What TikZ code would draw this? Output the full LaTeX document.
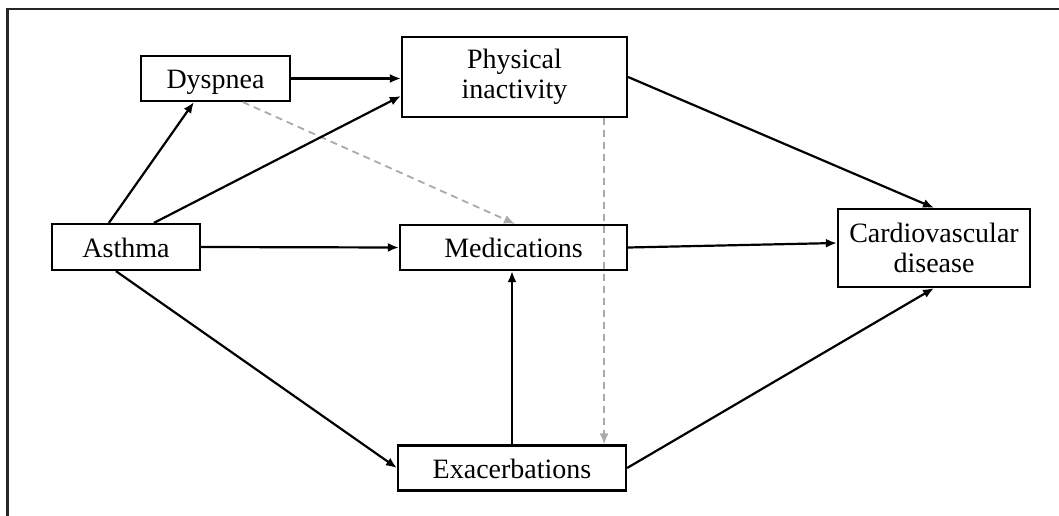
\documentclass[tikz,border=0pt]{standalone}
\usepackage{fontspec}
\setmainfont{Liberation Serif}
\usetikzlibrary{arrows.meta,calc}
\begin{document}
\begin{tikzpicture}[x=1pt,y=-1pt,
  box/.style={draw=black,line width=2.2pt,rectangle,inner sep=0pt,align=center,
    font=\fontsize{28}{30}\selectfont},
  oneline/.style={text height=20pt,text depth=0pt},
  arr/.style={line width=2.2pt,draw=black,-{Latex[length=11pt,width=9pt]}},
  darr/.style={line width=1.8pt,draw=dgray,dash pattern=on 7pt off 5pt,-{Latex[length=11pt,width=9pt]}}]
\definecolor{dgray}{RGB}{170,170,170}
\useasboundingbox (0,0) rectangle (1059,516);
\draw[line width=2.4pt,draw=black!85] (7.5,516) -- (7.5,9) -- (1059,9);
\node[box,oneline,minimum width=149pt,minimum height=45pt] (dys) at (215.5,78.5) {Dyspnea};
\node[box,minimum width=225pt,minimum height=80pt] (phys) at (514.5,77) {Physical\\inactivity};
\node[box,oneline,minimum width=148pt,minimum height=46pt] (ast) at (126,247) {Asthma};
\node[box,oneline,minimum width=227pt,minimum height=45pt] (med) at (513.5,247.5) {Medications};
\node[box,minimum width=192pt,minimum height=78pt] (cvd) at (934,248) {Cardiovascular\\disease};
\node[box,oneline,minimum width=228pt,minimum height=45pt] (exa) at (512,468) {Exacerbations};
% dashed grey connectors
\coordinate (dysd) at ($(dys.south west)+(103,0)$);
\coordinate (physd) at ($(phys.south east)+(-24,0)$);
\draw[darr] (dysd) -- ($(med.north)+(1.5,0)$);
\draw[darr] (physd) -- (physd |- exa.north);
% solid connectors
\draw[arr] ($(ast.north west)+(58,0)$) -- ($(dys.south west)+(54,0)$);
\draw[arr] ($(ast.north west)+(103,0)$) -- ($(phys.west)+(0,19)$);
\draw[arr] (dys.east) -- (dys.east -| phys.west);
\draw[arr] (ast.east) -- (med.west);
\draw[arr] ($(ast.south west)+(65,0)$) -- (exa.west);
\draw[arr] (exa.north) -- (exa.north |- med.south);
\draw[arr] (phys.east) -- (cvd.north);
\draw[arr] (med.east) -- ($(cvd.west)+(0,-5)$);
\draw[arr] (exa.east) -- (cvd.south);
\end{tikzpicture}
\end{document}
